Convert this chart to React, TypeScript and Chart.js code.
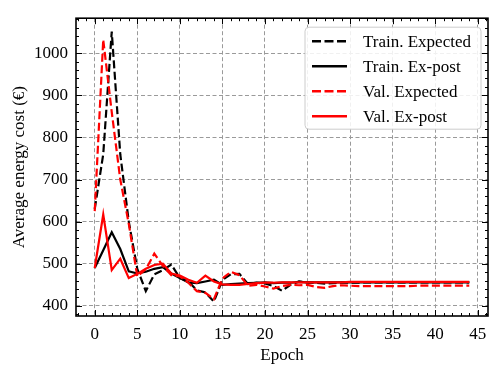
import React, { useEffect, useRef } from "react";
import { Chart, registerables } from "chart.js";

Chart.register(...registerables);

const epochs = [0, 1, 2, 3, 4, 5, 6, 7, 8, 9, 10, 11, 12, 13, 14, 15, 16, 17, 18, 19, 20, 21, 22, 23, 24, 25, 26, 27, 28, 29, 30, 31, 32, 33, 34, 35, 36, 37, 38, 39, 40, 41, 42, 43, 44];

const trainExpected = [630, 760, 1051, 760, 600, 488, 435, 475, 485, 498, 466, 458, 437, 432, 410, 462, 475, 476, 452, 455, 453, 447, 436, 450, 458, 455, 455, 453, 454, 455, 455, 455, 456, 456, 456, 456, 456, 456, 456, 456, 456, 456, 456, 456, 456];
const trainExPost = [490, 532, 575, 535, 482, 477, 481, 488, 492, 477, 466, 456, 454, 458, 462, 450, 452, 453, 454, 455, 456, 454, 455, 455, 457, 456, 456, 456, 456, 456, 456, 456, 456, 456, 456, 456, 456, 456, 456, 456, 456, 456, 456, 456, 456];
const valExpected = [625, 1032, 860, 700, 595, 470, 487, 524, 495, 473, 470, 455, 435, 431, 416, 465, 481, 473, 448, 450, 446, 441, 447, 450, 449, 450, 445, 443, 447, 449, 448, 447, 447, 447, 447, 447, 447, 447, 448, 448, 448, 448, 448, 448, 448];
const valExPost = [490, 617, 485, 512, 466, 476, 488, 497, 500, 477, 472, 462, 455, 472, 458, 451, 450, 450, 452, 454, 455, 455, 456, 456, 456, 456, 456, 456, 456, 456, 457, 457, 457, 457, 457, 457, 457, 457, 457, 457, 457, 457, 457, 457, 457];

const seriesLabels = ["Train. Expected", "Train. Ex-post", "Val. Expected", "Val. Ex-post"];
const xTicks = [0, 5, 10, 15, 20, 25, 30, 35, 40, 45];
const yTicks = [400, 500, 600, 700, 800, 900, 1000];

const FONT = "'Liberation Serif', 'DejaVu Serif', serif";

const toPoints = (ys: number[]) => ys.map((y, i) => ({ x: epochs[i], y }));

const framePlugin = {
  id: "frameTicks",
  afterDatasetsDraw(chart: any) {
    const { ctx, chartArea: a, scales } = chart;
    const xs = scales.x;
    const ys = scales.y;
    ctx.save();
    ctx.strokeStyle = "#000";
    ctx.lineWidth = 1;
    ctx.setLineDash([]);
    for (let v = -2; v <= 46; v += 1) {
      const px = Math.round(xs.getPixelForValue(v)) + 0.5;
      if (px < a.left || px > a.right) continue;
      const len = v % 5 === 0 ? 6 : 3;
      ctx.beginPath();
      ctx.moveTo(px, a.bottom);
      ctx.lineTo(px, a.bottom - len);
      ctx.moveTo(px, a.top);
      ctx.lineTo(px, a.top + len);
      ctx.stroke();
    }
    for (let v = 380; v <= 1080; v += 20) {
      const py = Math.round(ys.getPixelForValue(v)) + 0.5;
      if (py < a.top || py > a.bottom) continue;
      const len = v % 100 === 0 ? 6 : 3;
      ctx.beginPath();
      ctx.moveTo(a.left, py);
      ctx.lineTo(a.left + len, py);
      ctx.moveTo(a.right, py);
      ctx.lineTo(a.right - len, py);
      ctx.stroke();
    }
    ctx.lineWidth = 1.6;
    ctx.strokeRect(a.left, a.top, a.right - a.left, a.bottom - a.top);
    ctx.restore();
  },
};

const legendPlugin = {
  id: "customLegend",
  afterDraw(chart: any) {
    const { ctx, chartArea: a } = chart;
    const bx = a.right - 183;
    const by = a.top + 9;
    const bw = 176;
    const bh = 102;
    const r = 4;
    ctx.save();
    ctx.beginPath();
    ctx.moveTo(bx + r, by);
    ctx.lineTo(bx + bw - r, by);
    ctx.quadraticCurveTo(bx + bw, by, bx + bw, by + r);
    ctx.lineTo(bx + bw, by + bh - r);
    ctx.quadraticCurveTo(bx + bw, by + bh, bx + bw - r, by + bh);
    ctx.lineTo(bx + r, by + bh);
    ctx.quadraticCurveTo(bx, by + bh, bx, by + bh - r);
    ctx.lineTo(bx, by + r);
    ctx.quadraticCurveTo(bx, by, bx + r, by);
    ctx.closePath();
    ctx.fillStyle = "rgba(255,255,255,0.85)";
    ctx.fill();
    ctx.strokeStyle = "#cccccc";
    ctx.lineWidth = 1;
    ctx.stroke();
    ctx.font = `17px ${FONT}`;
    ctx.textBaseline = "middle";
    ctx.textAlign = "left";
    chart.data.datasets.forEach((ds: any, i: number) => {
      const y = by + 14 + i * 25;
      ctx.beginPath();
      ctx.setLineDash(ds.borderDash && ds.borderDash.length ? [9, 3.5] : []);
      ctx.strokeStyle = ds.borderColor;
      ctx.lineWidth = 2.5;
      ctx.moveTo(bx + 7, y);
      ctx.lineTo(bx + 42, y);
      ctx.stroke();
      ctx.setLineDash([]);
      ctx.fillStyle = "#000";
      ctx.fillText(ds.label, bx + 58, y + 1);
    });
    ctx.restore();
  },
};

export default function App() {
  const ref = useRef<HTMLCanvasElement | null>(null);

  useEffect(() => {
    if (!ref.current) return;
    const mk = (label: string, data: number[], color: string, dashed: boolean, order: number) => ({
      label,
      data: toPoints(data),
      borderColor: color,
      backgroundColor: color,
      borderWidth: 2.2,
      borderDash: dashed ? [8, 3.5] : [],
      pointRadius: 0,
      tension: 0,
      fill: false,
      order,
    });
    const chart = new Chart(ref.current, {
      type: "line",
      data: {
        datasets: [
          mk(seriesLabels[0], trainExpected, "#000000", true, 3),
          mk(seriesLabels[1], trainExPost, "#000000", false, 2),
          mk(seriesLabels[2], valExpected, "#ff0000", true, 1),
          mk(seriesLabels[3], valExPost, "#ff0000", false, 0),
        ],
      },
      options: {
        animation: false,
        responsive: false,
        maintainAspectRatio: false,
        layout: { padding: { top: 9, right: 10, left: 0, bottom: 0 } },
        plugins: { legend: { display: false }, tooltip: { enabled: false } },
        scales: {
          x: {
            type: "linear",
            min: -2.2,
            max: 46.2,
            afterBuildTicks: (s: any) => {
              s.ticks = xTicks.map((v) => ({ value: v }));
            },
            afterFit: (s: any) => {
              s.height = 58;
            },
            ticks: {
              color: "#000",
              font: { family: FONT, size: 17 },
              padding: 8,
              maxRotation: 0,
              autoSkip: false,
              callback: (v: any) => String(v),
            },
            grid: { color: "#9a9a9a", lineWidth: 1, drawTicks: false },
            border: { display: false, dash: [4, 2.5] },
            title: {
              display: true,
              text: "Epoch",
              color: "#000",
              font: { family: FONT, size: 17 },
              padding: { top: 0, bottom: 8 },
            },
          },
          y: {
            type: "linear",
            min: 376,
            max: 1083,
            afterBuildTicks: (s: any) => {
              s.ticks = yTicks.map((v) => ({ value: v }));
            },
            afterFit: (s: any) => {
              s.width = 76;
            },
            ticks: {
              color: "#000",
              font: { family: FONT, size: 17 },
              padding: 8,
              autoSkip: false,
              callback: (v: any) => String(v),
            },
            grid: { color: "#9a9a9a", lineWidth: 1, drawTicks: false },
            border: { display: false, dash: [4, 2.5] },
            title: {
              display: true,
              text: "Average energy cost (€)",
              color: "#000",
              font: { family: FONT, size: 17 },
              padding: { top: 9, bottom: 0 },
            },
          },
        },
      },
      plugins: [framePlugin, legendPlugin],
    } as any);
    return () => chart.destroy();
  }, []);

  return (
    <div style={{ position: "fixed", left: 0, top: 0, width: 498, height: 374, background: "#fff" }}>
      <canvas ref={ref} width={498} height={374} style={{ display: "block", width: 498, height: 374 }} />
    </div>
  );
}
